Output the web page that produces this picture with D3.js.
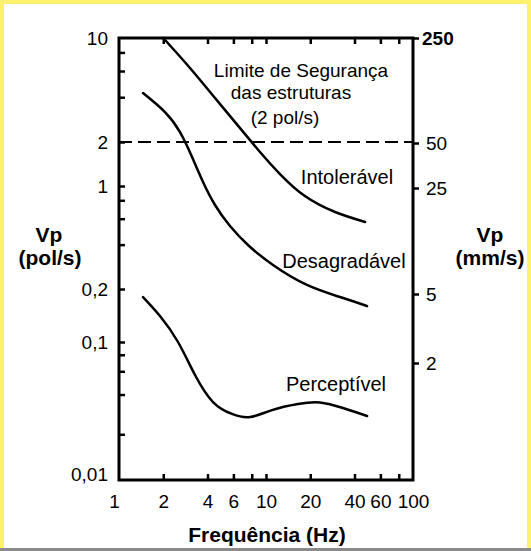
<!DOCTYPE html>
<html><head><meta charset="utf-8">
<script src="https://cdn.jsdelivr.net/npm/d3@7"></script>
<style>
html,body{margin:0;padding:0;background:#fff;}
svg{display:block;font-family:"Liberation Sans",Arial,sans-serif;}
</style>
</head><body>
<svg id="chart" width="531" height="551"></svg>
<script>
// ---------- data ----------
const xTickValues = [1, 2, 4, 6, 10, 20, 40, 60, 100];
const xTickLabels = ["1", "2", "4", "6", "10", "20", "40", "60", "100"];
const xMinorTicks = [2, 4, 6, 8, 10, 20, 40, 60, 80];

const yLeftTickValues = [10, 2, 1, 0.2, 0.1, 0.01];
const yLeftTickLabels = ["10", "2", "1", "0,2", "0,1", "0,01"];
const yLeftMinorTicks = [8, 6, 4, 2, 1, 0.8, 0.6, 0.4, 0.2, 0.1, 0.08, 0.06, 0.04, 0.02];

const yRightTickValues = [250, 50, 25, 5, 2];
const yRightTickLabels = ["250", "50", "25", "5", "2"];

const limitValue = 2; // pol/s

// Limite de Segurança curve (frequency Hz, Vp pol/s)
const freqLimite = [2.0, 3.04, 4.50, 6.66, 9.10, 12.45, 18.4, 29.5, 47.2];
const vpLimite   = [10, 6.29, 3.95, 2.48, 1.71, 1.208, 0.855, 0.666, 0.570];

// Desagradável / Intolerável boundary
const freqDesagr = [1.457, 2.055, 2.60, 3.14, 3.73, 4.50, 5.69, 7.54, 11.16, 19.0, 31.9, 48.7];
const vpDesagr   = [4.27, 3.18, 2.33, 1.58, 1.065, 0.743, 0.535, 0.398, 0.291, 0.213, 0.180, 0.160];

// Perceptível boundary
const freqPercep = [1.457, 1.90, 2.52, 3.29, 4.36, 5.87, 7.79, 10.98, 16.5, 23.3, 33.4, 48.7];
const vpPercep   = [0.180, 0.1405, 0.1, 0.0562, 0.0351, 0.0285, 0.0270, 0.0305, 0.0339, 0.0348, 0.0316, 0.0275];

// ---------- layout ----------
const W = 531, H = 551;
const mLeft = 119, mRight = 413, mTop = 38, mBottom = 480;

const svg = d3.select("#chart");

// border
svg.append("rect").attr("x", 0).attr("y", 0).attr("width", W).attr("height", H).attr("fill", "#FFF26B");
svg.append("rect").attr("x", 4).attr("y", 4).attr("width", W - 8).attr("height", H - 4).attr("fill", "#fff");
svg.append("rect").attr("x", 0).attr("y", H - 3).attr("width", W).attr("height", 3).attr("fill", "#8a8a8a");

// ---------- scales ----------
const x = d3.scaleLog().domain([1, 100]).range([mLeft, mRight]);
const yL = d3.scaleLog().domain([0.01, 0.1, 0.2, 1, 2, 10]).range([474, 342, 289, 186, 142, mTop]);
const yR = d3.scaleLog().domain([2, 5, 25, 50, 250]).range([363, 294, 188, 143, mTop]);

// ---------- ticks ----------
function styleTicks(g, sw) {
  g.select(".domain").remove();
  g.selectAll(".tick line").attr("stroke", "#000").attr("stroke-width", sw);
}
svg.append("g").attr("transform", `translate(0,${mBottom})`)
  .call(d3.axisTop(x).tickValues(xMinorTicks).tickSize(6).tickFormat(""))
  .call(g => styleTicks(g, 2.5));
svg.append("g").attr("transform", `translate(0,${mTop})`)
  .call(d3.axisBottom(x).tickValues(xMinorTicks).tickSize(6).tickFormat(""))
  .call(g => styleTicks(g, 2.5));
svg.append("g").attr("transform", `translate(${mLeft},0)`)
  .call(d3.axisRight(yL).tickValues(yLeftMinorTicks).tickSize(6).tickFormat(""))
  .call(g => styleTicks(g, 2.5));

const FONT = "Liberation Sans, Arial, sans-serif";
// bottom labels
const xLab = svg.append("g").attr("transform", `translate(0,${mBottom})`)
  .call(d3.axisBottom(x).tickValues(xTickValues).tickSize(0).tickPadding(14.5)
    .tickFormat((d, i) => xTickLabels[i]));
xLab.select(".domain").remove();
xLab.selectAll("text").attr("font-size", 19).attr("font-family", FONT).attr("fill", "#000");
xLab.select(".tick text").attr("dx", -5);

// left labels
const yLab = svg.append("g").attr("transform", `translate(${mLeft},0)`)
  .call(d3.axisLeft(yL).tickValues(yLeftTickValues).tickSize(0).tickPadding(11)
    .tickFormat((d, i) => yLeftTickLabels[i]));
yLab.select(".domain").remove();
yLab.selectAll("text").attr("font-size", 19).attr("font-family", FONT).attr("fill", "#000");

// right axis
const yRAx = svg.append("g").attr("transform", `translate(${mRight},0)`)
  .call(d3.axisRight(yR).tickValues(yRightTickValues).tickSize(6).tickPadding(7)
    .tickFormat((d, i) => yRightTickLabels[i]));
yRAx.select(".domain").remove();
yRAx.selectAll(".tick line").attr("stroke", "#000").attr("stroke-width", 2.5);
yRAx.selectAll("text").attr("font-size", 19).attr("font-family", FONT).attr("fill", "#000");
yRAx.selectAll(".tick text").filter(d => d === 250).attr("font-weight", "bold").attr("dx", -4);

// ---------- frame ----------
svg.append("rect").attr("x", mLeft).attr("y", mTop).attr("width", mRight - mLeft).attr("height", mBottom - mTop)
  .attr("fill", "none").attr("stroke", "#000").attr("stroke-width", 3);

// ---------- dashed safety limit ----------
svg.append("line").attr("x1", mLeft).attr("x2", mRight).attr("y1", yL(limitValue)).attr("y2", yL(limitValue))
  .attr("stroke", "#000").attr("stroke-width", 2).attr("stroke-dasharray", "13,6");

// ---------- curves ----------
const line = d3.line().x(d => x(d[0])).y(d => yL(d[1])).curve(d3.curveNatural);
const series = [
  d3.zip(freqLimite, vpLimite),
  d3.zip(freqDesagr, vpDesagr),
  d3.zip(freqPercep, vpPercep)
];
svg.append("g").selectAll("path").data(series).join("path")
  .attr("d", line).attr("fill", "none").attr("stroke", "#000").attr("stroke-width", 2.5)
  .attr("stroke-linecap", "round");

// ---------- annotations ----------
function txt(s, px, py, size, opts = {}) {
  svg.append("text").attr("x", px).attr("y", py).attr("text-anchor", opts.anchor || "middle")
    .attr("font-size", size).attr("font-weight", opts.bold ? "bold" : "normal")
    .attr("font-family", FONT).attr("fill", "#000").text(s);
}
txt("Limite de Segurança", 301, 77, 19);
txt("das estruturas", 291, 99, 19);
txt("(2 pol/s)", 285, 124, 19);
txt("Intolerável", 347, 184, 20);
txt("Desagradável", 344, 268, 20);
txt("Perceptível", 336, 391, 20);

txt("Vp", 49, 242, 21, {bold: true});
txt("(pol/s)", 50, 265, 21, {bold: true});
txt("Vp", 490, 242, 21, {bold: true});
txt("(mm/s)", 490, 265, 21, {bold: true});
txt("Frequência (Hz)", 267, 542, 21, {bold: true});
</script>
</body></html>
